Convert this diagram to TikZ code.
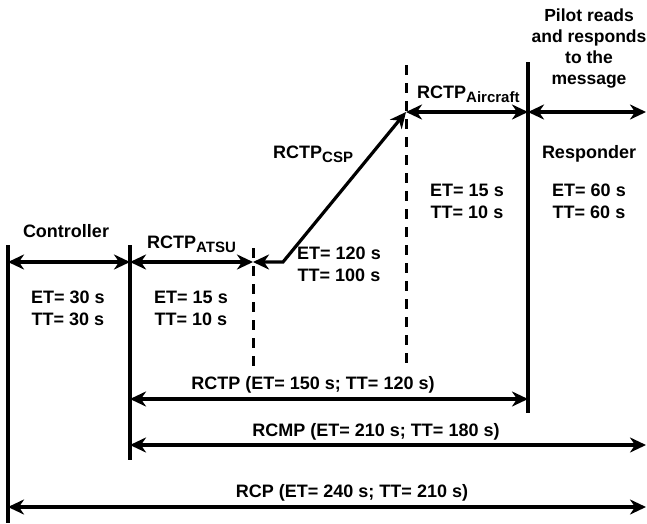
\documentclass[tikz,border=0pt]{standalone}
\usepackage{fontspec}
\setmainfont{Liberation Sans}
\usetikzlibrary{arrows.meta}
\newcommand\lowsub[1]{\raisebox{-4.5pt}{\fontsize{15}{15}\selectfont #1}}
\begin{document}
\begin{tikzpicture}[x=1pt,y=-1pt,
  lbl/.style={font=\fontsize{18}{22}\selectfont\bfseries, inner sep=0pt},
  two/.style={lbl, align=center, anchor=north},
  topnote/.style={font=\fontsize{17.5}{21}\selectfont\bfseries, inner sep=0pt, align=center, anchor=north},
  solidline/.style={line width=3.2pt},
  dashline/.style={line width=3pt, dash pattern=on 10pt off 8pt},
  dim/.style={line width=3.2pt, {Stealth[length=16pt,width=15pt,inset=5pt]}-{Stealth[length=16pt,width=15pt,inset=5pt]}}
]
\useasboundingbox (0,0) rectangle (647,523);
% vertical lines
\coordinate (L0t) at (8,245);   \coordinate (L0b) at (8,523);
\coordinate (L1t) at (130,245); \coordinate (L1b) at (130,460);
\coordinate (D1t) at (253,248); \coordinate (D1b) at (253,367);
\coordinate (D2t) at (406,65);  \coordinate (D2b) at (406,367);
\coordinate (L2t) at (528,62);  \coordinate (L2b) at (528,413);
\draw[solidline] (L0t) -- (L0b);
\draw[solidline] (L1t) -- (L1b);
\draw[solidline] (L2t) -- (L2b);
\draw[dashline] (D1t) -- (D1b);
\draw[dashline] (D2t) -- (D2b);
% arrow end points
\coordinate (p1) at (8,262);   \coordinate (p2) at (130,262);
\coordinate (p3) at (253,262); \coordinate (k) at (283,262);
\coordinate (p4) at (406,112); \coordinate (p5) at (528,112);
\coordinate (p6) at (646,112);
\coordinate (r1) at (130,399); \coordinate (r2) at (528,399);
\coordinate (m1) at (130,445); \coordinate (m2) at (646,445);
\coordinate (q1) at (8,507);   \coordinate (q2) at (646,507);
\draw[dim] (p1) -- (p2);
\draw[dim] (p2) -- (p3);
\draw[dim] (p3) -- (k) -- (p4);
\draw[dim] (p4) -- (p5);
\draw[dim] (p5) -- (p6);
\draw[dim] (r1) -- (r2);
\draw[dim] (m1) -- (m2);
\draw[dim] (q1) -- (q2);
% labels
\node[lbl, anchor=base] (ctrl) at (66,237) {Controller};
\node[lbl, anchor=base west] (atsu) at (147,248) {RCTP\lowsub{ATSU}};
\node[lbl, anchor=base west] (csp) at (273,158) {RCTP\lowsub{CSP}};
\node[lbl, anchor=base west] (acft) at (417,98) {RCTP\lowsub{Aircraft}};
\node[lbl, anchor=base] (resp) at (589,158) {Responder};
\node[topnote] (pilot) at (589,9) {Pilot reads\\and responds\\to the\\message};
\node[two] (t1) at (68,291) {ET= 30 s\\TT= 30 s};
\node[two] (t2) at (191,291) {ET= 15 s\\TT= 10 s};
\node[two] (t3) at (339,247) {ET= 120 s\\TT= 100 s};
\node[two] (t4) at (467,184) {ET= 15 s\\TT= 10 s};
\node[two] (t5) at (589,184) {ET= 60 s\\TT= 60 s};
\node[lbl, anchor=base] (rctp) at (313,389) {RCTP (ET= 150 s; TT= 120 s)};
\node[lbl, anchor=base] (rcmp) at (376,436) {RCMP (ET= 210 s; TT= 180 s)};
\node[lbl, anchor=base] (rcp) at (352,497) {RCP (ET= 240 s; TT= 210 s)};
\end{tikzpicture}
\end{document}
